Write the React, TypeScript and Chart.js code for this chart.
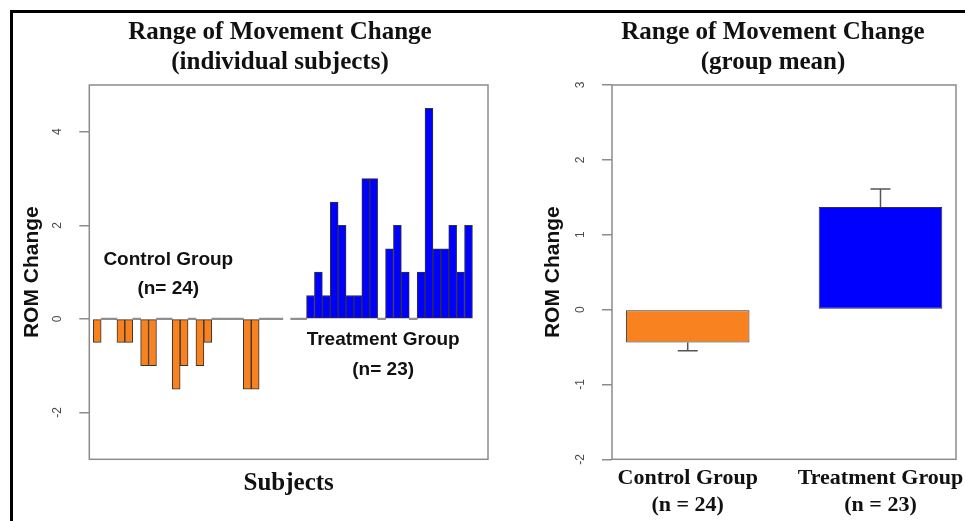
import React, { useEffect, useRef } from "react";
import { Chart, registerables } from "chart.js";

Chart.register(...registerables);

// ---------------- data ----------------
const controlValues = [
  -0.5, 0, 0, -0.5, -0.5, 0, -1, -1, 0, 0, -1.5, -1,
  0, -1, -0.5, 0, 0, 0, 0, -1.5, -1.5, 0, 0, 0,
];
const treatmentValues = [
  0, 0, 0.5, 1, 0.5, 2.5, 2, 0.5, 0.5, 3, 3, 0,
  1.5, 2, 1, 0, 1, 4.5, 1.5, 1.5, 2, 1, 2,
];
const subjectTickValues = [-2, 0, 2, 4];
const subjectNotes = [
  ["Control Group", "(n= 24)"],
  ["Treatment Group", "(n= 23)"],
];
const groupNames = [
  ["Control Group", "(n = 24)"],
  ["Treatment Group", "(n = 23)"],
];
const groupMeans = [-0.44, 1.37];
const groupErrors = [0.11, 0.24];
const meanTickValues = [-2, -1, 0, 1, 2, 3];
const leftTitle = ["Range of Movement Change", "(individual subjects)"];
const rightTitle = ["Range of Movement Change", "(group mean)"];
const yAxisTitle = "ROM Change";
const subjectsAxisTitle = "Subjects";

// ---------------- styles ----------------
const ORANGE = "#F7821F";
const BLUE = "#0000FF";
const AXIS_GREY = "#8c8c8c";
const ZERO_GREY = "#8f8f8f";
const BAR_EDGE = "#333333";
const TEXT = "#111111";
const TICK_TEXT = "#4a4a4a";
const SERIF = "'Liberation Serif', 'Times New Roman', serif";
const SANS = "'Liberation Sans', Arial, sans-serif";

const boxPlugin = {
  id: "plotBox",
  afterDatasetsDraw(chart: any) {
    const { ctx, chartArea: a } = chart;
    ctx.save();
    ctx.strokeStyle = AXIS_GREY;
    ctx.lineWidth = 1.5;
    ctx.strokeRect(a.left, a.top, a.right - a.left, a.bottom - a.top);
    ctx.restore();
  },
};

const notesPlugin = {
  id: "groupNotes",
  afterDatasetsDraw(chart: any, _args: any, opts: any) {
    const { ctx } = chart;
    const xs = chart.scales.x;
    const ys = chart.scales.y;
    ctx.save();
    ctx.font = opts.font;
    ctx.fillStyle = opts.color;
    ctx.textAlign = "center";
    ctx.textBaseline = "middle";
    subjectNotes.forEach((lines, i) => {
      const anchor = opts.anchors[i];
      const px = xs.getPixelForValue(anchor.x);
      const py = ys.getPixelForValue(anchor.y);
      lines.forEach((line, k) => ctx.fillText(line, px, py + k * opts.lineGap));
    });
    ctx.restore();
  },
};

const errorBarPlugin = {
  id: "errorBars",
  afterDatasetsDraw(chart: any, _args: any, opts: any) {
    const { ctx } = chart;
    const ys = chart.scales.y;
    const meta = chart.getDatasetMeta(0);
    ctx.save();
    ctx.strokeStyle = opts.color;
    ctx.lineWidth = opts.lineWidth;
    meta.data.forEach((bar: any, i: number) => {
      const mean = groupMeans[i];
      const end = mean + Math.sign(mean) * groupErrors[i];
      const y0 = ys.getPixelForValue(mean);
      const y1 = ys.getPixelForValue(end);
      ctx.beginPath();
      ctx.moveTo(bar.x, y0);
      ctx.lineTo(bar.x, y1);
      ctx.moveTo(bar.x - opts.capHalf, y1);
      ctx.lineTo(bar.x + opts.capHalf, y1);
      ctx.stroke();
    });
    ctx.restore();
  },
};

const padAxis = (w: number) => ({
  type: "linear",
  position: "right",
  display: true,
  ticks: { display: false },
  grid: { display: false, drawTicks: false },
  border: { display: false },
  afterFit: (s: any) => {
    s.width = w;
  },
});

const yAxis = (min: number, max: number, ticks: number[], titlePad: number, width: number) => ({
  type: "linear",
  position: "left",
  min,
  max,
  afterBuildTicks: (s: any) => {
    s.ticks = ticks.map((v) => ({ value: v }));
  },
  ticks: {
    font: { family: SANS, size: 12 },
    color: TICK_TEXT,
    padding: 16.3,
    minRotation: 90,
    maxRotation: 90,
    crossAlign: "center",
  },
  grid: {
    drawOnChartArea: false,
    drawTicks: true,
    tickLength: 10,
    color: AXIS_GREY,
    lineWidth: 1.5,
  },
  border: { display: false },
  title: {
    display: true,
    text: yAxisTitle,
    font: { family: SANS, size: 21, weight: "bold" },
    color: TEXT,
    padding: { top: titlePad, bottom: 0 },
  },
  afterFit: (s: any) => {
    s.width = width;
  },
});

const titleOpts = (text: string[]) => ({
  display: true,
  text,
  font: { family: SERIF, size: 25, weight: "bold", lineHeight: "30px" },
  color: TEXT,
  padding: { top: 18, bottom: 7 },
});

function SubjectsChart() {
  const ref = useRef<HTMLCanvasElement>(null);
  useEffect(() => {
    const treatmentOffset = controlValues.length + 1;
    const zeroAware = (color: string) => (c: any) =>
      c.raw && c.raw.y === 0 ? ZERO_GREY : color;
    const edgeWidth = (c: any) => (c.raw && c.raw.y === 0 ? 0 : 1);
    const chart = new Chart(ref.current as HTMLCanvasElement, {
      type: "bar",
      data: {
        datasets: [
          {
            label: "Control",
            data: controlValues.map((v, i) => ({ x: i, y: v })),
            backgroundColor: zeroAware(ORANGE),
            borderColor: BAR_EDGE,
            borderWidth: edgeWidth,
            borderSkipped: false,
            minBarLength: 1.5,
            grouped: false,
            barPercentage: 1,
            categoryPercentage: 1,
            xAxisID: "x",
            yAxisID: "y",
          },
          {
            label: "Treatment",
            data: treatmentValues.map((v, i) => ({ x: treatmentOffset + i, y: v })),
            backgroundColor: zeroAware(BLUE),
            borderColor: BAR_EDGE,
            borderWidth: edgeWidth,
            borderSkipped: false,
            minBarLength: 1.5,
            grouped: false,
            barPercentage: 1,
            categoryPercentage: 1,
            xAxisID: "x",
            yAxisID: "y",
          },
        ],
      } as any,
      options: {
        responsive: false,
        maintainAspectRatio: false,
        animation: false,
        events: [],
        layout: { padding: 0 },
        scales: {
          x: {
            type: "linear",
            min: -1,
            max: 49.47,
            offset: false,
            ticks: { display: false },
            grid: { display: false, drawTicks: false },
            border: { display: false },
            title: {
              display: true,
              text: subjectsAxisTitle,
              font: { family: SERIF, size: 25, weight: "bold" },
              color: TEXT,
              padding: { top: 0, bottom: 22 },
            },
            afterFit: (s: any) => {
              s.height = 61.7;
            },
          },
          y: yAxis(-3, 5, subjectTickValues, 19.9, 89.3),
          yPad: padAxis(72),
        },
        plugins: {
          legend: { display: false },
          tooltip: { enabled: false },
          title: titleOpts(leftTitle),
          groupNotes: {
            font: `bold 19px ${SANS}`,
            color: TEXT,
            lineGap: 29.5,
            anchors: [
              { x: 9, y: 1.27 },
              { x: 36.2, y: -0.45 },
            ],
          },
        },
      } as any,
      plugins: [boxPlugin, notesPlugin],
    });
    return () => chart.destroy();
  }, []);
  return (
    <canvas
      ref={ref}
      width={560}
      height={521}
      style={{ position: "absolute", left: 0, top: 0, width: 560, height: 521 }}
    />
  );
}

function MeansChart() {
  const ref = useRef<HTMLCanvasElement>(null);
  useEffect(() => {
    const chart = new Chart(ref.current as HTMLCanvasElement, {
      type: "bar",
      data: {
        datasets: [
          {
            label: "Group mean",
            data: groupMeans.map((v, i) => ({ x: i, y: v })),
            backgroundColor: [ORANGE, BLUE],
            borderColor: BAR_EDGE,
            borderWidth: 1,
            borderSkipped: false,
            barPercentage: 0.641,
            categoryPercentage: 1,
            xAxisID: "x",
            yAxisID: "y",
          },
        ],
      } as any,
      options: {
        responsive: false,
        maintainAspectRatio: false,
        animation: false,
        events: [],
        layout: { padding: 0 },
        scales: {
          x: {
            type: "linear",
            min: -0.3926,
            max: 1.3916,
            offset: false,
            afterBuildTicks: (s: any) => {
              s.ticks = groupNames.map((_, i) => ({ value: i }));
            },
            ticks: {
              callback: (_v: any, i: number) => groupNames[i],
              font: { family: SERIF, size: 22, weight: "bold", lineHeight: "27px" },
              color: TEXT,
              padding: 5.2,
              minRotation: 0,
              maxRotation: 0,
              autoSkip: false,
            },
            grid: { display: false, drawTicks: false },
            border: { display: false },
            afterFit: (s: any) => {
              s.height = 61.7;
            },
          },
          y: yAxis(-2, 3, meanTickValues, 10.4, 82),
          yPad: padAxis(60),
        },
        plugins: {
          legend: { display: false },
          tooltip: { enabled: false },
          title: titleOpts(rightTitle),
          errorBars: { color: "#555555", lineWidth: 1.5, capHalf: 10 },
        },
      } as any,
      plugins: [boxPlugin, errorBarPlugin],
    });
    return () => chart.destroy();
  }, []);
  return (
    <canvas
      ref={ref}
      width={486}
      height={521}
      style={{ position: "absolute", left: 530, top: 0, width: 486, height: 521 }}
    />
  );
}

export default function App() {
  return (
    <div
      style={{
        position: "fixed",
        left: 0,
        top: 0,
        width: 965,
        height: 521,
        overflow: "hidden",
        background: "#ffffff",
      }}
    >
      <SubjectsChart />
      <MeansChart />
      <div
        style={{
          position: "absolute",
          left: 10,
          top: 10,
          width: 2000,
          height: 2000,
          borderTop: "3px solid #000",
          borderLeft: "3px solid #000",
          pointerEvents: "none",
        }}
      />
    </div>
  );
}
